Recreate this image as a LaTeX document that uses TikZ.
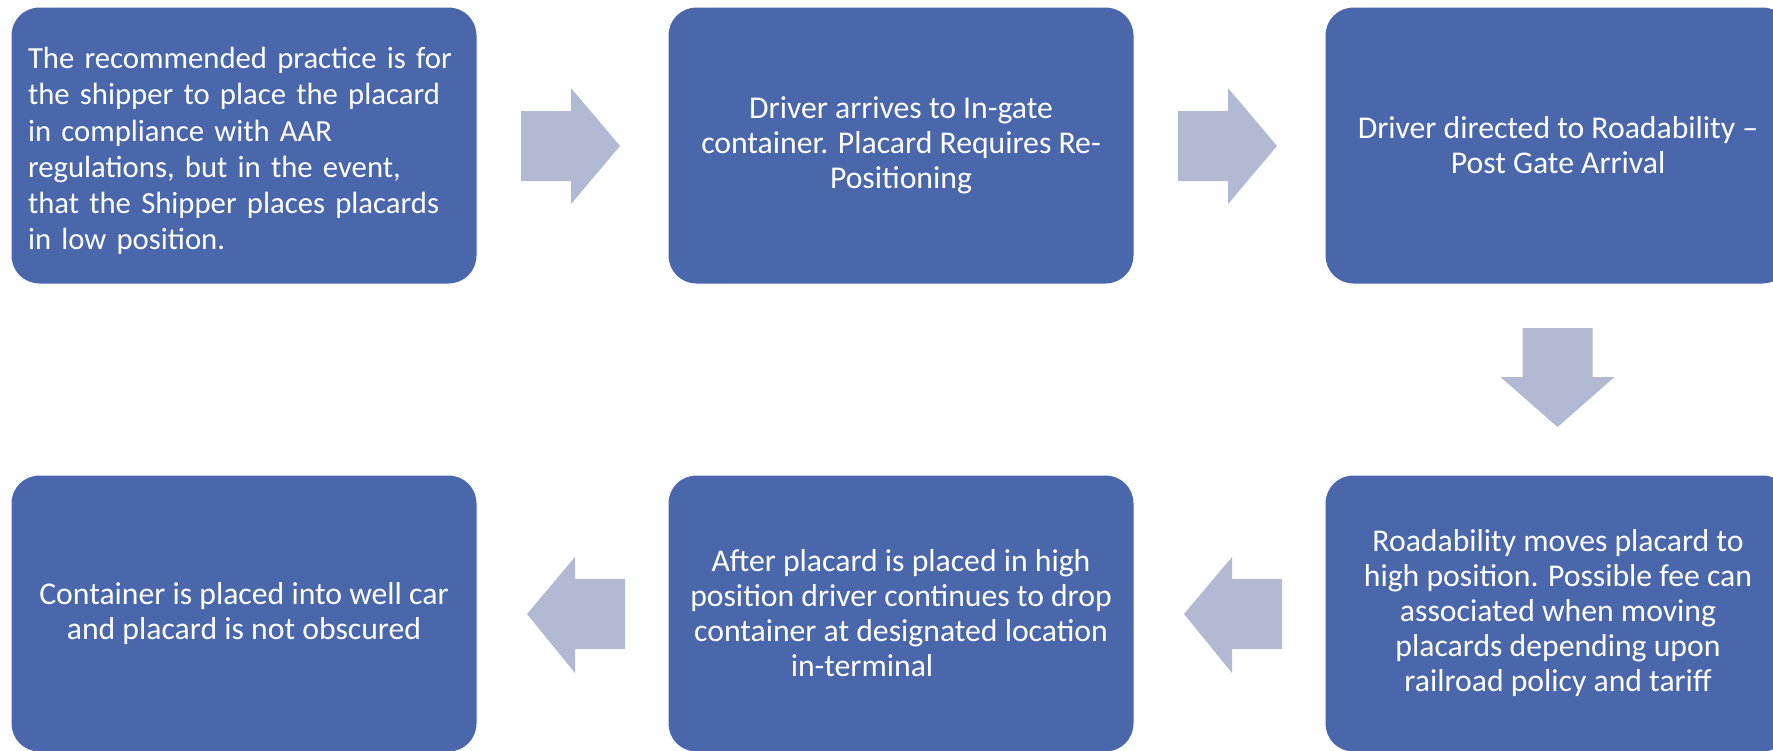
\documentclass[tikz,border=0pt]{standalone}
\usepackage{fontspec}
\setmainfont{Carlito}
\begin{document}
\begin{tikzpicture}[x=1pt,y=-1pt,
  stepbox/.style={rounded corners=28pt, fill=boxblue, draw=white, line width=1pt,
    minimum width=466pt, minimum height=277pt, text=white, inner sep=0pt,
    font=\fontsize{31.7}{35}\selectfont, align=center},
  blockarrow/.style={fill=arrowgray}]
\definecolor{boxblue}{RGB}{74,103,172}
\definecolor{arrowgray}{RGB}{177,185,211}
\useasboundingbox (0,0) rectangle (1773,750);
\fill[white] (0,0) rectangle (1773,750);
% top row
\node[stepbox] (b1) at (244,145.5) {};
\node[text=white, align=left, text width=432pt, inner sep=0pt, font=\fontsize{30.7}{36.2}\selectfont] (t1) at (244,151) {The recommended practice is for\\the shipper to place the placard\\in compliance with AAR\\regulations, but in the event,\\that the Shipper places placards\\in low position.};
\node[stepbox] (b2) at (901,145.5) {Driver arrives to In-gate\\container. Placard Requires Re-\\Positioning};
\node[stepbox] (b3) at (1558,145.5) {Driver directed to Roadability --\\Post Gate Arrival};
% bottom row
\node[stepbox] (b4) at (1558,613.5) {Roadability moves placard to\\high position. Possible fee can\\associated when moving\\placards depending upon\\railroad policy and tariff};
\node[stepbox] (b5) at (901,613.5) {After placard is placed in high\\position driver continues to drop\\container at designated location\\in-terminal\hspace*{78pt}};
\node[stepbox] (b6) at (244,613.5) {Container is placed into well car\\and placard is not obscured};
% block arrows
\coordinate (a1) at (521,146);
\coordinate (a2) at (1178,146);
\coordinate (a3) at (1557.5,328);
\coordinate (a4) at (1282,614);
\coordinate (a5) at (625,614);
\fill[blockarrow] (a1) ++(0,-35) -- ++(50,0) -- ++(0,-23) -- ++(49,58) -- ++(-49,58) -- ++(0,-23) -- ++(-50,0) -- cycle;
\fill[blockarrow] (a2) ++(0,-35) -- ++(50,0) -- ++(0,-23) -- ++(49,58) -- ++(-49,58) -- ++(0,-23) -- ++(-50,0) -- cycle;
\fill[blockarrow] (a3) ++(-35,0) -- ++(0,49) -- ++(-22,0) -- ++(57,50) -- ++(57,-50) -- ++(-22,0) -- ++(0,-49) -- cycle;
\fill[blockarrow] (a4) ++(0,-35) -- ++(-50,0) -- ++(0,-22) -- ++(-48,57) -- ++(48,59) -- ++(0,-24) -- ++(50,0) -- cycle;
\fill[blockarrow] (a5) ++(0,-35) -- ++(-50,0) -- ++(0,-22) -- ++(-48,57) -- ++(48,59) -- ++(0,-24) -- ++(50,0) -- cycle;
\end{tikzpicture}
\end{document}
